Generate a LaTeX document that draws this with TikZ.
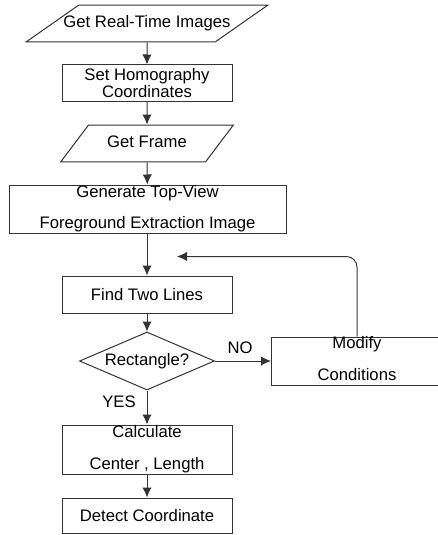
\documentclass[tikz,border=0pt]{standalone}
\usepackage{fontspec}
\setmainfont{Liberation Sans}
\usetikzlibrary{arrows.meta, shapes, positioning}
\tikzstyle{block} = [draw=black!80, line width=0.75pt, rectangle, inner sep=0pt, align=center, minimum width=127.5pt]
\tikzstyle{io} = [draw=black!80, line width=0.75pt, trapezium, text height=9pt, text depth=2.6pt, inner ysep=8.05pt]
\tikzstyle{decision} = [draw=black!80, line width=0.75pt, diamond, inner sep=0pt, aspect=2.33, minimum width=101.25pt, minimum height=43.5pt]
\tikzstyle{line} = [draw=black!80, line width=0.75pt, -{Latex[length=7.5pt, width=7pt]}]

\begin{document}
\begin{tikzpicture}[x=0.75pt, y=-0.75pt, font=\fontsize{12.5}{12.75}\selectfont]
	\useasboundingbox (0, 0) rectangle (437, 535);

	\node (Img) [io, trapezium left angle=35, trapezium right angle=145, inner xsep=-11.5pt] at (147, 23.5) {Get Real-Time Images};
	\node (Homo) [block, minimum height=27pt] at (147, 83) {Set Homography\\Coordinates};
	\node (Frame) [io, trapezium left angle=53, trapezium right angle=127, inner xsep=14pt] at (147, 143.5) {Get Frame};
	\node (Gen) [block, minimum width=207.75pt, minimum height=36pt] at (147.5, 209) {Generate Top-View\\[10.5pt]Foreground Extraction Image};
	\node (Find) [block, minimum height=27.75pt] at (147, 294.5) {Find Two Lines};
	\node (Rect) [decision] at (147, 361) {Rectangle?};
	% box runs off the right side of the page
	\node (Mod) [block, minimum width=150pt, minimum height=36pt, anchor=west] at (271, 361) {};
	\node (ModText) [align=center, inner sep=0pt] at (357, 359) {Modify\\[11.25pt]Conditions};
	\node (Calc) [block, minimum height=36.75pt] at (147, 449.5) {Calculate\\[11.25pt]Center , Length};
	\node (Detect) [block, minimum height=26.25pt] at (147, 515.5) {Detect Coordinate};

	\draw [line] (Img) -- (Homo);
	\draw [line] (Homo) -- (Frame);
	\draw [line] (Frame) -- (Gen);
	\draw [line] (Gen.south -| Find.north) -- (Find);
	\draw [line] (Find) -- (Rect);
	\draw [line] (Rect) -- (Mod);
	\draw [line] (Rect) -- (Calc);
	\draw [line] (Calc) -- (Detect);

	\coordinate (Back) at (177, 256.5);
	\draw [line, rounded corners=8pt] (ModText.north |- Mod.north) |- (Back);

	\node (No) at (240, 348) {NO};
	\node (Yes) at (119, 402) {YES};

\end{tikzpicture}
\end{document}
